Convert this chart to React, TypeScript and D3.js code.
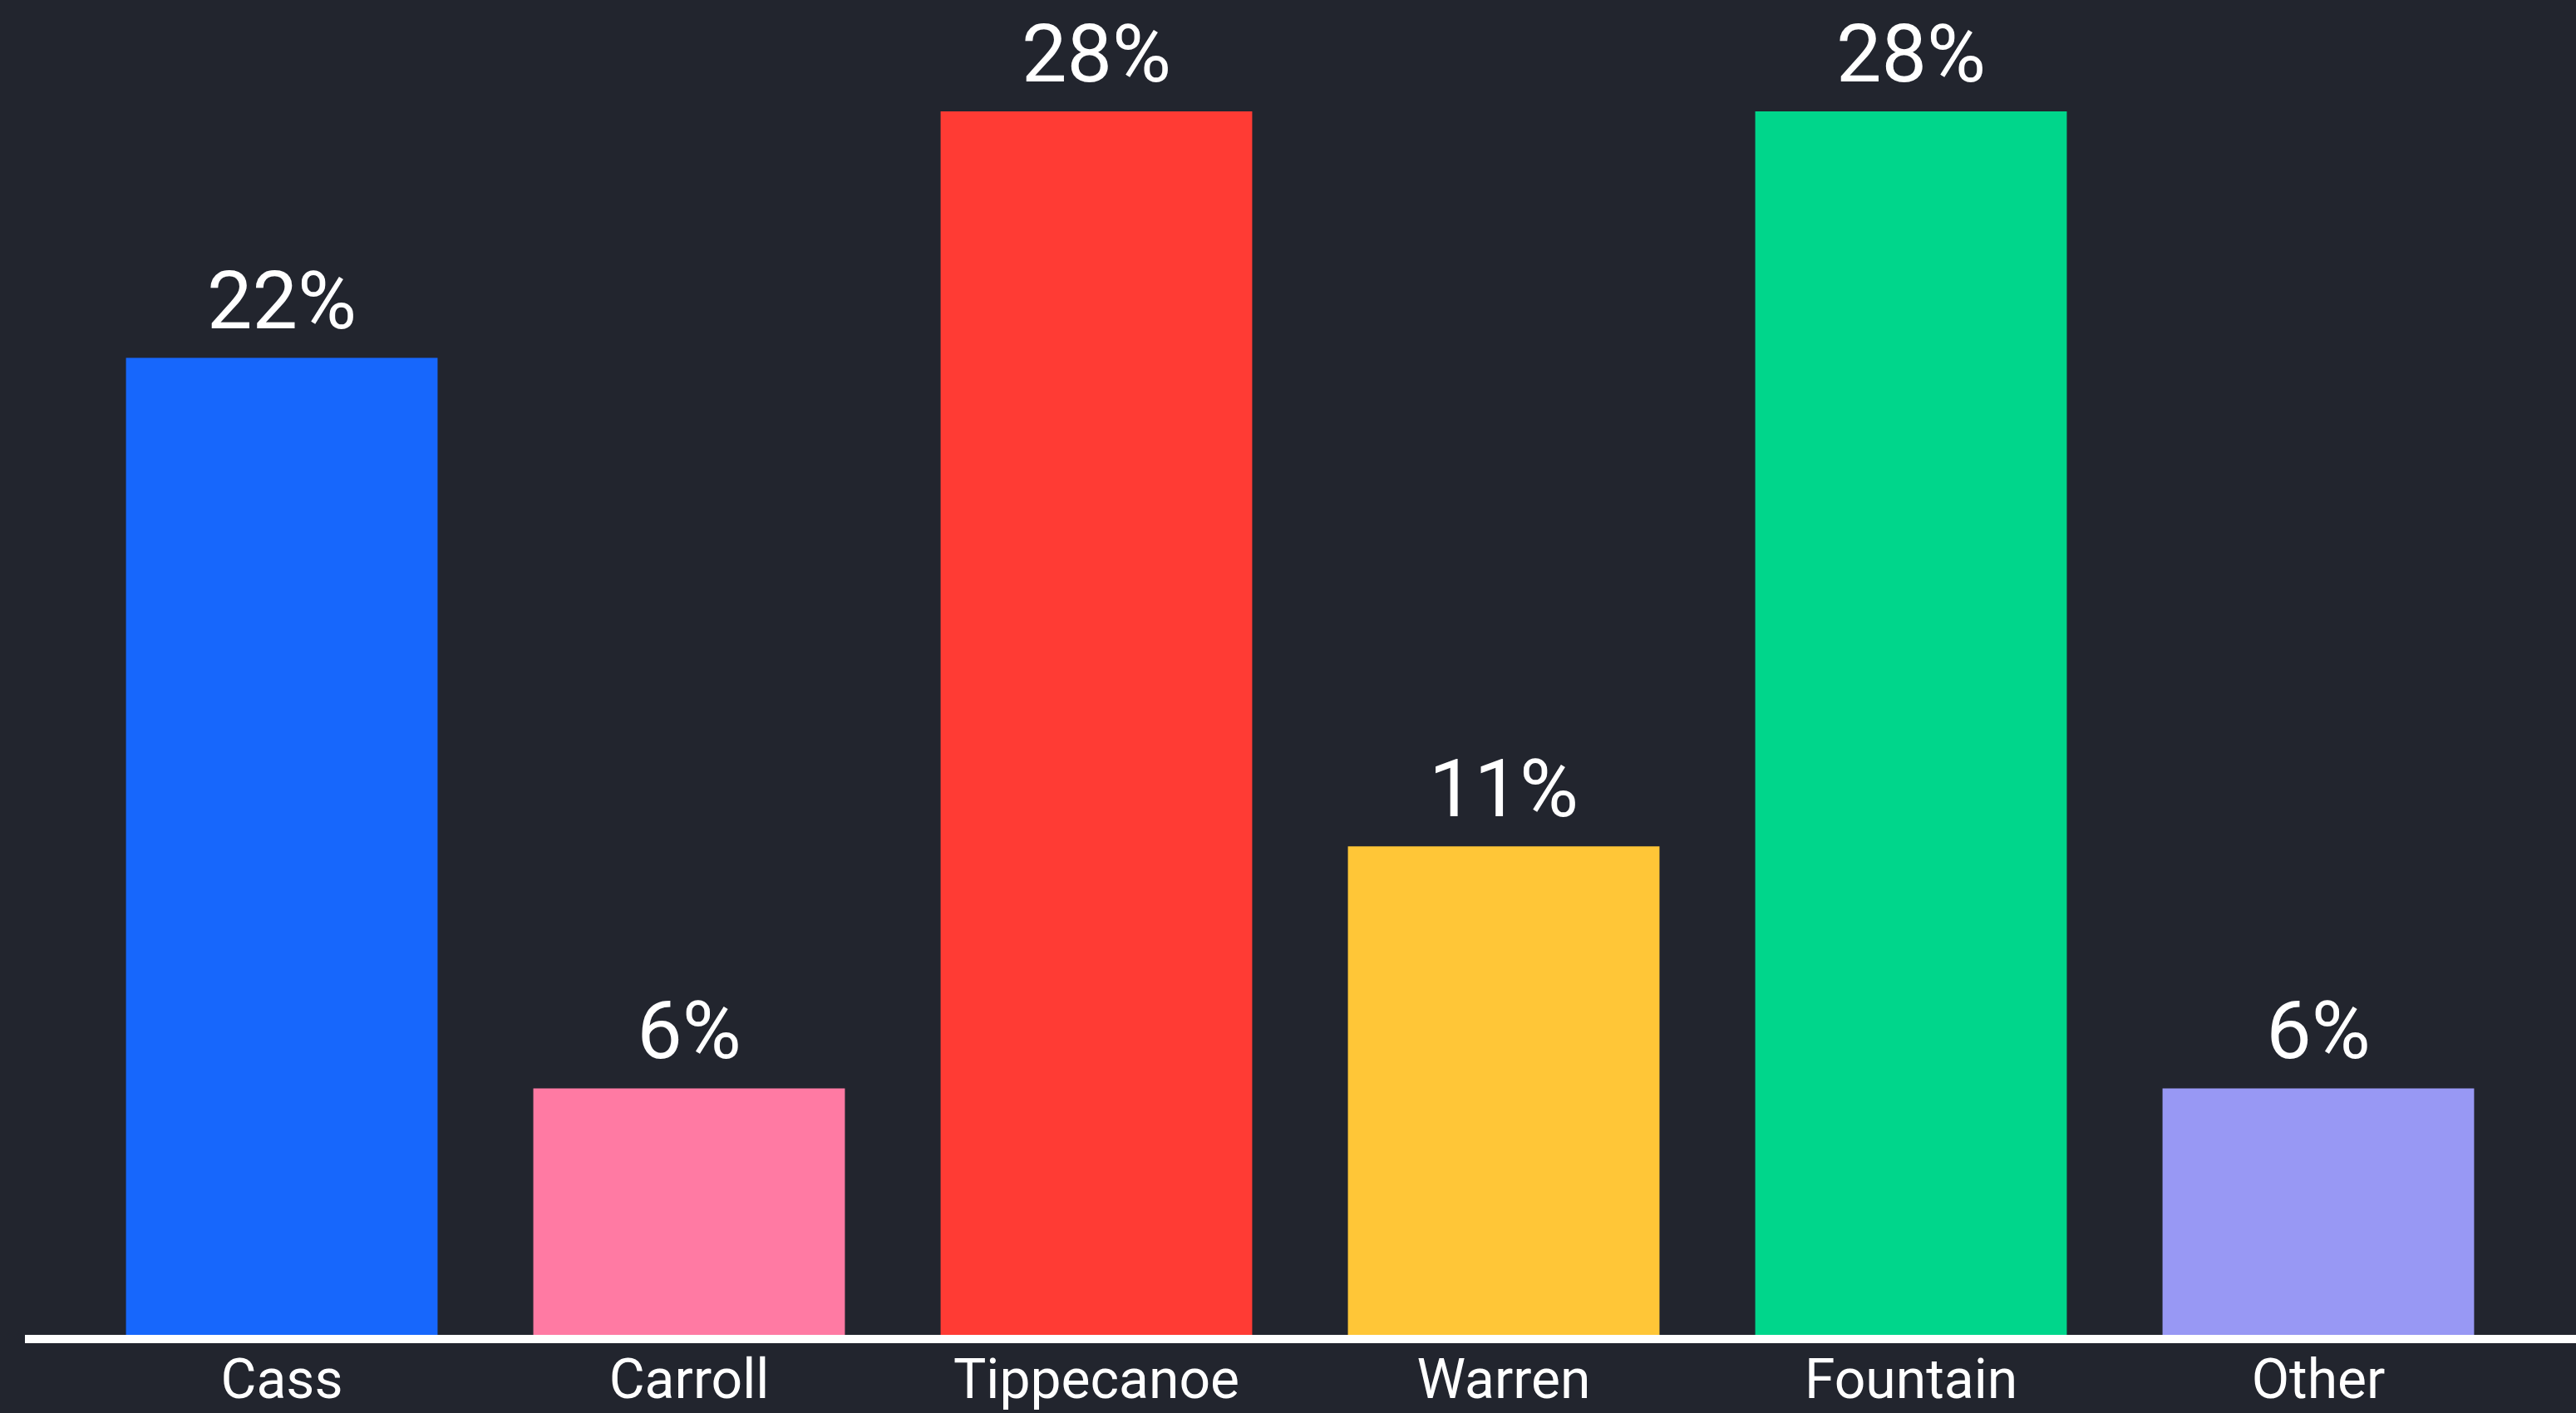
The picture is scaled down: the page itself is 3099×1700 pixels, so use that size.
import * as React from 'react';
import { axisBottom, scaleBand, scaleLinear, select } from 'd3';

const counties = ['Cass', 'Carroll', 'Tippecanoe', 'Warren', 'Fountain', 'Other'];
const shares = [22.2, 5.6, 27.8, 11.1, 27.8, 5.6];
const shareLabels = ['22%', '6%', '28%', '11%', '28%', '6%'];
const barColors = ['#1767fc', '#ff7aa3', '#ff3b34', '#ffc637', '#00d68b', '#9898f4'];

const W = 3099;
const H = 1700;
const FONT = 'Roboto, "Open Sans", sans-serif';

const App = () => {
    const svgRef = React.useRef<SVGSVGElement>(null);

    React.useEffect(() => {
        const svg = select(svgRef.current);
        svg.selectAll('*').remove();

        const baseY = 1606;
        const xScale = scaleBand()
            .domain(counties)
            .range([94, 3034])
            .paddingInner(0.235)
            .paddingOuter(0.1175);

        const yScale = scaleLinear()
            .domain([0, 27.8])
            .range([baseY, 134]);

        svg.append('rect')
            .attr('width', W)
            .attr('height', H)
            .attr('fill', '#22252e');

        const rows = counties.map((c, i) => ({ c, v: shares[i], label: shareLabels[i], color: barColors[i] }));

        svg.append('g')
            .selectAll('rect')
            .data(rows)
            .join('rect')
            .attr('x', (d) => xScale(d.c) || 0)
            .attr('width', xScale.bandwidth())
            .attr('y', (d) => yScale(d.v))
            .attr('height', (d) => baseY - yScale(d.v))
            .attr('fill', (d) => d.color);

        svg.append('g')
            .selectAll('text')
            .data(rows)
            .join('text')
            .attr('x', (d) => (xScale(d.c) || 0) + xScale.bandwidth() / 2)
            .attr('y', (d) => yScale(d.v) - 36)
            .attr('text-anchor', 'middle')
            .attr('fill', '#ffffff')
            .style('font-family', FONT)
            .style('font-size', '97px')
            .text((d) => d.label);

        // baseline runs past the bands to the right edge
        svg.append('line')
            .attr('x1', 30)
            .attr('x2', W)
            .attr('y1', 1611)
            .attr('y2', 1611)
            .attr('stroke', '#ffffff')
            .attr('stroke-width', 10);

        const xAxis = axisBottom(xScale).tickSize(0);
        const gx = svg.append('g')
            .attr('transform', `translate(0, 1611)`)
            .call(xAxis as any);
        gx.select('.domain').remove();
        gx.selectAll('text')
            .attr('y', 71)
            .attr('dy', 0)
            .attr('fill', '#ffffff')
            .style('font-family', FONT)
            .style('font-size', '66px');
    }, []);

    return (
        <svg
            ref={svgRef}
            width={W}
            height={H}
            style={{ position: 'absolute', left: 0, top: 0, display: 'block' }}
        />
    );
};

export default App;
